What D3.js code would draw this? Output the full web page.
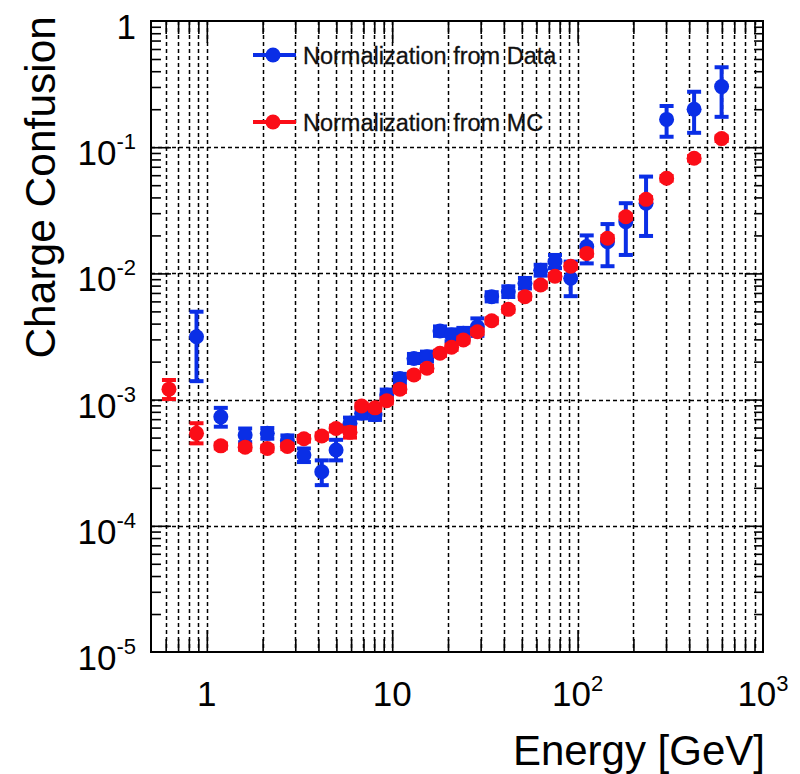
<!DOCTYPE html>
<html>
<head>
<meta charset="utf-8">
<script src="https://cdn.jsdelivr.net/npm/d3@7/dist/d3.min.js"></script>
<style>
  body { margin: 0; background: #fff; }
  text { font-family: "Liberation Sans", Arial, sans-serif; fill: #000; }
</style>
</head>
<body>
<script>
// energy bins [GeV]
const dataEnergy = [0.88, 1.19, 1.61, 2.12, 2.72, 3.34, 4.17, 4.98, 5.92, 6.84, 8.08, 9.34, 11.0, 13.1, 15.4, 18.1,
  20.9, 24.2, 28.8, 34.4, 42.3, 52.0, 63.2, 75.5, 91.8, 112, 145, 182, 234, 302, 425, 598]
const dataValue = [3.15e-3, 7.3e-4, 5.24e-4, 5.4e-4, 4.72e-4, 3.64e-4, 2.68e-4, 3.99e-4, 6.5e-4, 7.8e-4, 7.6e-4, 1.09e-3, 1.47e-3, 2.12e-3, 2.19e-3, 3.5e-3,
  3.25e-3, 3.35e-3, 3.78e-3, 6.54e-3, 7.16e-3, 8.34e-3, 1.06e-2, 1.24e-2, 9.15e-3, 1.63e-2, 1.78e-2, 2.57e-2, 3.6e-2, 0.166, 0.2, 0.302]
const dataLow = [1.40e-3, 6.1e-4, 4.6e-4, 4.9e-4, 4.3e-4, 3.2e-4, 2.1e-4, 3.3e-4, 5.9e-4, 7.1e-4, 6.9e-4, 1.0e-3, 1.35e-3, 1.95e-3, 2.0e-3, 3.2e-3,
  2.9e-3, 3.0e-3, 3.2e-3, 6.0e-3, 6.5e-3, 7.6e-3, 9.6e-3, 1.1e-2, 6.6e-3, 1.2e-2, 1.14e-2, 1.4e-2, 1.98e-2, 0.121, 0.13, 0.174]
const dataHigh = [4.97e-3, 8.6e-4, 5.9e-4, 5.95e-4, 5.2e-4, 4.1e-4, 3.3e-4, 4.8e-4, 7.2e-4, 8.6e-4, 8.4e-4, 1.2e-3, 1.6e-3, 2.3e-3, 2.4e-3, 3.8e-3,
  3.6e-3, 3.7e-3, 4.4e-3, 7.1e-3, 7.9e-3, 9.2e-3, 1.17e-2, 1.4e-2, 1.24e-2, 2.0e-2, 2.46e-2, 3.6e-2, 5.85e-2, 0.212, 0.275, 0.43]

const mcEnergy = [0.625, 0.88, 1.19, 1.61, 2.12, 2.72, 3.34, 4.17, 4.98, 5.92, 6.84, 8.08, 9.34, 11.0, 13.1, 15.4, 18.1,
  20.9, 24.2, 28.8, 34.4, 42.3, 52.0, 63.2, 75.5, 91.8, 112, 145, 182, 234, 302, 425, 598]
const mcValue = [1.21e-3, 5.4e-4, 4.3e-4, 4.2e-4, 4.1e-4, 4.25e-4, 4.9e-4, 5.15e-4, 5.9e-4, 5.5e-4, 8.9e-4, 8.6e-4, 9.8e-4, 1.21e-3, 1.57e-3, 1.77e-3, 2.33e-3,
  2.6e-3, 2.97e-3, 3.45e-3, 4.22e-3, 5.19e-3, 6.54e-3, 8.09e-3, 9.5e-3, 1.14e-2, 1.44e-2, 1.9e-2, 2.81e-2, 3.86e-2, 5.67e-2, 8.17e-2, 0.117]
const mcLow = [1.01e-3, 4.5e-4, 4.1e-4, 4.0e-4, 3.9e-4, 4.05e-4, 4.65e-4, 4.9e-4, 5.6e-4, 5.0e-4, 8.5e-4, 8.2e-4, 9.3e-4, 1.15e-3, 1.5e-3, 1.69e-3, 2.22e-3,
  2.48e-3, 2.83e-3, 3.3e-3, 4.03e-3, 4.96e-3, 6.25e-3, 7.73e-3, 9.1e-3, 1.09e-2, 1.38e-2, 1.82e-2, 2.69e-2, 3.7e-2, 5.43e-2, 7.83e-2, 0.112]
const mcHigh = [1.43e-3, 6.5e-4, 4.5e-4, 4.4e-4, 4.3e-4, 4.45e-4, 5.15e-4, 5.4e-4, 6.2e-4, 6.0e-4, 9.3e-4, 9.0e-4, 1.03e-3, 1.27e-3, 1.64e-3, 1.85e-3, 2.44e-3,
  2.72e-3, 3.11e-3, 3.6e-3, 4.41e-3, 5.42e-3, 6.83e-3, 8.45e-3, 9.9e-3, 1.19e-2, 1.5e-2, 1.98e-2, 2.93e-2, 4.02e-2, 5.91e-2, 8.51e-2, 0.122]

const xTickValues = [1, 10, 100, 1000]
const xTickLabels = [['1', ''], ['10', ''], ['10', '2'], ['10', '3']]
const yTickValues = [1, 1e-1, 1e-2, 1e-3, 1e-4, 1e-5]
const yTickLabels = [['1', ''], ['10', '-1'], ['10', '-2'], ['10', '-3'], ['10', '-4'], ['10', '-5']]
const seriesNames = ['Normalization from Data', 'Normalization from MC']
const seriesColors = ['#0a2ee6', '#fb0d17']

const margin = { top: 21, right: 37, bottom: 122, left: 151 }
const width = 800 - margin.left - margin.right
const height = 774 - margin.top - margin.bottom

const root = d3.select('body').append('svg')
  .attr('width', 800)
  .attr('height', 774)
const svg = root.append('g')
  .attr('transform', `translate(${margin.left}, ${margin.top})`)

const xScale = d3.scaleLog().domain([0.5, 1000]).range([0, width])
const yScale = d3.scaleLog().domain([1e-5, 1]).range([height, 0])

// minor ticks: 1..9 in each decade, inside the domain
const logTicks = (scale, decades) => {
  const out = []
  decades.forEach(d => d3.range(1, 10).forEach(k => out.push(k * d)))
  const [a, b] = scale.domain()
  return out.filter(v => v > a * 1.0001 && v < b * 0.9999)
}
const xAll = logTicks(xScale, [0.1, 1, 10, 100])
const yAll = logTicks(yScale, [1e-5, 1e-4, 1e-3, 1e-2, 1e-1])
const yMajorInner = yTickValues.filter(v => v > 1e-5 && v < 1)
const px = v => Math.round(v) + 0.5

// grid
const grid = svg.append('g').attr('class', 'grid')
grid.selectAll('.gx').data(xAll).enter().append('line')
  .attr('x1', d => px(xScale(d))).attr('x2', d => px(xScale(d)))
  .attr('y1', 0).attr('y2', height)
  .attr('stroke', '#000').attr('stroke-width', 1.5).attr('stroke-dasharray', '4,3')
grid.selectAll('.gy').data(yMajorInner).enter().append('line')
  .attr('x1', 0).attr('x2', width)
  .attr('y1', d => px(yScale(d))).attr('y2', d => px(yScale(d)))
  .attr('stroke', '#000').attr('stroke-width', 1.5).attr('stroke-dasharray', '4,3')

// tick marks on all four sides, pointing inward
const tickStyle = g => g.call(s => s.select('.domain').remove())
  .call(s => s.selectAll('line').attr('stroke', '#000').attr('stroke-width', 1.6))
const isMajor = v => Math.abs(Math.log10(v) - Math.round(Math.log10(v))) < 1e-6

svg.append('g').attr('transform', `translate(0, ${height})`)
  .call(d3.axisBottom(xScale).tickValues(xAll.filter(v => !isMajor(v))).tickSize(-13).tickFormat(''))
  .call(tickStyle)
svg.append('g').attr('transform', `translate(0, ${height})`)
  .call(d3.axisBottom(xScale).tickValues(xAll.filter(isMajor)).tickSize(-22).tickFormat(''))
  .call(tickStyle)
svg.append('g')
  .call(d3.axisTop(xScale).tickValues(xAll.filter(v => !isMajor(v))).tickSize(-13).tickFormat(''))
  .call(tickStyle)
svg.append('g')
  .call(d3.axisTop(xScale).tickValues(xAll.filter(isMajor)).tickSize(-22).tickFormat(''))
  .call(tickStyle)
svg.append('g')
  .call(d3.axisLeft(yScale).tickValues(yAll.filter(v => !isMajor(v))).tickSize(-10).tickFormat(''))
  .call(tickStyle)
svg.append('g')
  .call(d3.axisLeft(yScale).tickValues(yMajorInner).tickSize(-20).tickFormat(''))
  .call(tickStyle)
svg.append('g').attr('transform', `translate(${width}, 0)`)
  .call(d3.axisRight(yScale).tickValues(yAll.filter(v => !isMajor(v))).tickSize(-9).tickFormat(''))
  .call(tickStyle)
svg.append('g').attr('transform', `translate(${width}, 0)`)
  .call(d3.axisRight(yScale).tickValues(yMajorInner).tickSize(-18).tickFormat(''))
  .call(tickStyle)

// frame
svg.append('rect')
  .attr('width', width).attr('height', height)
  .attr('fill', 'none').attr('stroke', '#000').attr('stroke-width', 2)

// tick labels with superscripts
const xLab = svg.selectAll('.xlab').data(xTickValues).enter().append('text')
  .attr('x', d => xScale(d))
  .attr('y', height + 54)
  .attr('text-anchor', 'middle')
  .style('font-size', '35px')
xLab.append('tspan').text((d, i) => xTickLabels[i][0])
xLab.append('tspan').attr('dy', -15).style('font-size', '22px').text((d, i) => xTickLabels[i][1])

const yLab = svg.selectAll('.ylab').data(yTickValues).enter().append('text')
  .attr('x', -15)
  .attr('y', d => yScale(d) + 18)
  .attr('text-anchor', 'end')
  .style('font-size', '35px')
yLab.append('tspan').text((d, i) => yTickLabels[i][0])
yLab.append('tspan').attr('dy', -16).style('font-size', '22px').text((d, i) => yTickLabels[i][1])

// axis titles
svg.append('text')
  .attr('x', width + 2)
  .attr('y', height + 113)
  .attr('text-anchor', 'end')
  .style('font-size', '42px')
  .text('Energy [GeV]')
svg.append('text')
  .attr('transform', `translate(${-96}, ${-5}) rotate(-90)`)
  .attr('text-anchor', 'end')
  .style('font-size', '42.5px')
  .text('Charge Confusion')

// series
const drawSeries = (energy, value, low, high, color) => {
  const pts = energy.map((e, i) => ({ e, v: value[i], lo: low[i], hi: high[i] }))
  const g = svg.append('g')
  g.selectAll('.bar').data(pts).enter().append('line')
    .attr('x1', d => xScale(d.e)).attr('x2', d => xScale(d.e))
    .attr('y1', d => yScale(d.lo)).attr('y2', d => yScale(d.hi))
    .attr('stroke', color).attr('stroke-width', 4)
  g.selectAll('.capl').data(pts).enter().append('line')
    .attr('x1', d => xScale(d.e) - 7).attr('x2', d => xScale(d.e) + 7)
    .attr('y1', d => yScale(d.lo)).attr('y2', d => yScale(d.lo))
    .attr('stroke', color).attr('stroke-width', 4)
  g.selectAll('.caph').data(pts).enter().append('line')
    .attr('x1', d => xScale(d.e) - 7).attr('x2', d => xScale(d.e) + 7)
    .attr('y1', d => yScale(d.hi)).attr('y2', d => yScale(d.hi))
    .attr('stroke', color).attr('stroke-width', 4)
  g.selectAll('circle').data(pts).enter().append('circle')
    .attr('cx', d => xScale(d.e)).attr('cy', d => yScale(d.v))
    .attr('r', 7.5)
    .attr('fill', color)
}
drawSeries(dataEnergy, dataValue, dataLow, dataHigh, seriesColors[0])
drawSeries(mcEnergy, mcValue, mcLow, mcHigh, seriesColors[1])

// legend
const legend = root.append('g')
seriesNames.forEach((name, i) => {
  const ly = 55 + i * 67
  legend.append('line')
    .attr('x1', 253).attr('x2', 296).attr('y1', ly).attr('y2', ly)
    .attr('stroke', seriesColors[i]).attr('stroke-width', 4)
  legend.append('circle')
    .attr('cx', 273).attr('cy', ly).attr('r', 7.5)
    .attr('fill', seriesColors[i])
  legend.append('text')
    .attr('x', 303).attr('y', ly + 8.5)
    .style('font-size', '23.5px')
    .style('fill', '#111')
    .style('stroke', '#111')
    .style('stroke-width', 0.3)
    .text(name)
})
</script>
</body>
</html>
